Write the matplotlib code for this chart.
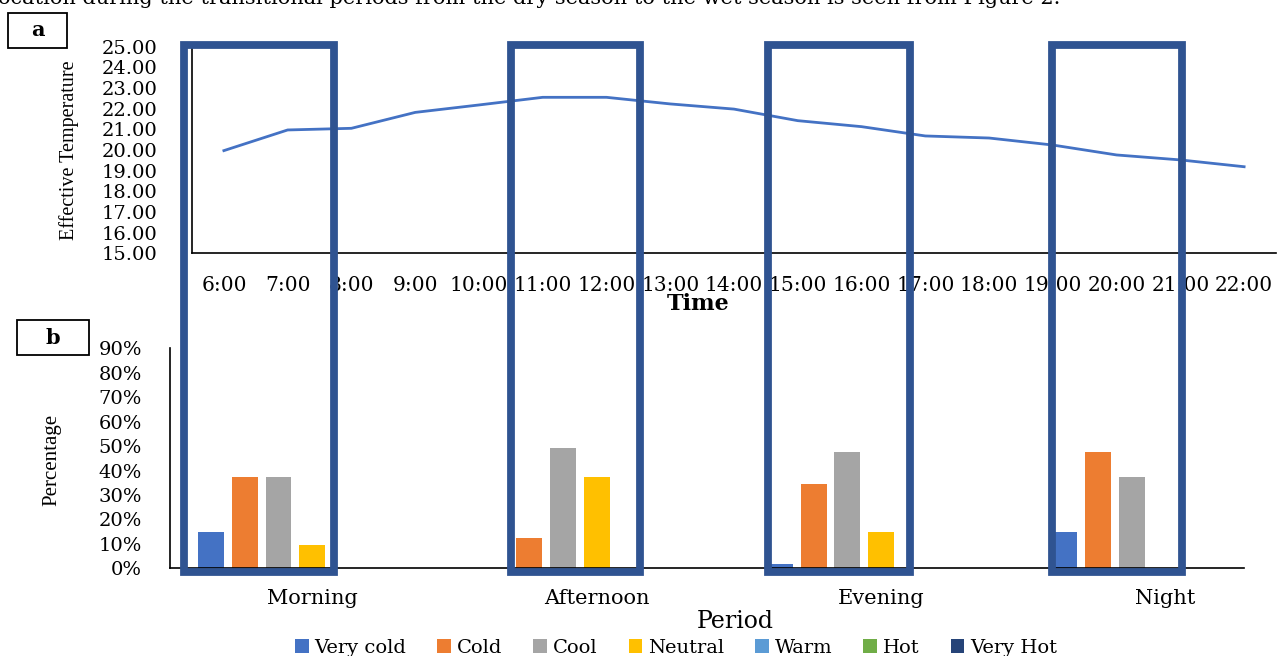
import matplotlib.pyplot as plt
import numpy as np
from matplotlib.patches import Rectangle
from matplotlib.ticker import FuncFormatter, PercentFormatter

# panel a: effective temperature by hour
hours = ["6:00", "7:00", "8:00", "9:00", "10:00", "11:00", "12:00", "13:00", "14:00",
         "15:00", "16:00", "17:00", "18:00", "19:00", "20:00", "21:00", "22:00"]
eff_temp = [19.97, 20.97, 21.05, 21.82, 22.18, 22.55, 22.55, 22.23, 21.98,
            21.42, 21.13, 20.68, 20.58, 20.24, 19.76, 19.52, 19.19]

# panel b: thermal sensation share by period
periods = ["Morning", "Afternoon", "Evening", "Night"]
sensations = ["Very cold", "Cold", "Cool", "Neutral", "Warm", "Hot", "Very Hot"]
very_cold = [0.15, 0.0, 0.017, 0.15]
cold = [0.375, 0.122, 0.345, 0.474]
cool = [0.375, 0.494, 0.474, 0.375]
neutral = [0.095, 0.375, 0.15, 0.0]
warm = [0, 0, 0, 0]
hot = [0, 0, 0, 0]
very_hot = [0, 0, 0, 0]
shares = [very_cold, cold, cool, neutral, warm, hot, very_hot]
colors = ["#4472C4", "#ED7D31", "#A5A5A5", "#FFC000", "#5B9BD5", "#70AD47", "#264478"]

W, H = 1279, 656
plt.rcParams['font.family'] = "DejaVu Serif"

fig = plt.figure(figsize=(W / 100, H / 100), dpi=100)

def px(x0, y0, x1, y1):
    # pixel box (top-left origin) -> figure fraction rect
    return [x0 / W, 1 - y1 / H, (x1 - x0) / W, (y1 - y0) / H]

# ---- panel a
ax1 = fig.add_axes(px(192, 46.7, 1276, 253.3))
x = np.arange(len(hours))
ax1.plot(x, eff_temp, color="#4472C4", lw=2.0)
ax1.set_xlim(-0.5, len(hours) - 0.5)
ax1.set_ylim(15, 25)
ax1.set_yticks(np.arange(15, 26, 1))
ax1.yaxis.set_major_formatter(FuncFormatter(lambda v, p: "%.2f" % v))
ax1.set_xticks(x)
ax1.set_xticklabels(hours)
ax1.tick_params(axis="y", length=0, pad=25, labelsize=14)
ax1.tick_params(axis="x", length=0, pad=16, labelsize=14.5)
for s in ["top", "right"]:
    ax1.spines[s].set_visible(False)
for s in ["left", "bottom"]:
    ax1.spines[s].set_linewidth(1.2)
ax1.set_xlabel("Time", fontsize=16, fontweight="bold")
ax1.xaxis.set_label_coords(0.4668, -0.245)
ax1.xaxis.label.set_va("center")
ax1.set_ylabel("Effective Temperature", fontsize=14.5, family="Liberation Serif")
ax1.yaxis.set_label_coords(-0.1135, 0.5)
ax1.yaxis.label.set_va("center")

# ---- panel b
ax2 = fig.add_axes(px(170, 348.3, 1244, 568.3))
xb = np.arange(len(periods))
pitch = 0.1185
bw = 0.091
for i, (name, vals, c) in enumerate(zip(sensations, shares, colors)):
    ax2.bar(xb + (i - 3) * pitch, vals, width=bw, color=c, label=name, zorder=2)
ax2.set_xlim(-0.5, 3.276)
ax2.set_ylim(0, 0.9)
ax2.set_yticks(np.arange(0, 0.91, 0.1))
ax2.yaxis.set_major_formatter(PercentFormatter(1.0, decimals=0))
ax2.set_xticks(xb)
ax2.set_xticklabels(periods)
ax2.tick_params(axis="y", length=0, pad=20, labelsize=14)
ax2.tick_params(axis="x", length=0, pad=15, labelsize=15)
for s in ["top", "right"]:
    ax2.spines[s].set_visible(False)
for s in ["left", "bottom"]:
    ax2.spines[s].set_linewidth(1.2)
ax2.set_xlabel("Period", fontsize=17)
ax2.xaxis.set_label_coords(0.526, -0.244)
ax2.xaxis.label.set_va("center")
ax2.set_ylabel("Percentage", fontsize=15, family="Liberation Serif")
ax2.yaxis.set_label_coords(-0.1099, 0.492)
ax2.yaxis.label.set_va("center")
ax2.legend(loc="center", bbox_to_anchor=(676 / W, 1 - 648 / H), bbox_transform=fig.transFigure,
           ncol=7, frameon=False, fontsize=14, handlelength=0.7, handleheight=0.7,
           handletextpad=0.3, columnspacing=1.6)

# highlight boxes spanning both panels (pixel left/right)
boxes = [(183.5, 334), (511.5, 640.5), (767.5, 909.5), (1052, 1182)]
for l, r in boxes:
    fig.add_artist(Rectangle((l / W, 1 - 571.5 / H), (r - l) / W, (571.5 - 45) / H,
                             transform=fig.transFigure, fill=False, ec="#2F5391",
                             lw=5.6, joinstyle="miter", zorder=10))

# panel tags
for tag, (x0, y0, x1, y1) in [("a", (8, 13, 67, 48)), ("b", (17, 320, 89, 355))]:
    r = px(x0, y0, x1, y1)
    fig.add_artist(Rectangle((r[0], r[1]), r[2], r[3], transform=fig.transFigure,
                             fill=False, ec="black", lw=1.3))
    fig.text(r[0] + r[2] / 2, r[1] + r[3] / 2, tag, ha="center", va="center",
             fontsize=15, fontweight="bold")

# running text from the page above the figure (cut off at the top, as in the source)
fig.text(-2 / W, 1 - 4 / H,
         "ocation during the transitional periods from the dry season to the wet season is seen from Figure 2.",
         ha="left", va="baseline", fontsize=15)

fig.savefig("out.png", dpi=100)
